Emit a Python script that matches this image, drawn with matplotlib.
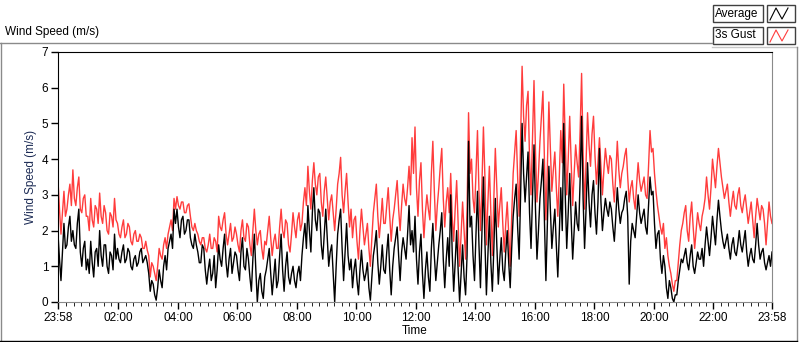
import numpy as np
import matplotlib.pyplot as plt
from matplotlib.lines import Line2D
from matplotlib.patches import Rectangle

plt.rcParams['font.family'] = ['Liberation Sans', 'DejaVu Sans']
plt.rcParams['font.size'] = 8.5

# readings every 3 minutes from 23:58, one row per hour
gust = [
    3.4, 2.6, 1.9, 2.5, 3.1, 2.4, 2.6, 3.0, 3.3, 2.7, 3.7, 2.9, 2.7, 3.2, 3.5, 2.6, 2.5, 2.9, 3.0, 2.4,
    2.4, 2.0, 2.9, 2.3, 2.1, 2.7, 2.6, 2.2, 3.05, 2.4, 2.2, 2.7, 2.5, 2.0, 1.9, 2.5, 2.4, 2.1, 2.9, 2.3,
    2.2, 1.9, 1.8, 2.1, 2.3, 1.8, 1.9, 2.2, 2.1, 1.7, 1.6, 1.9, 2.0, 1.7, 1.7, 1.9, 1.8, 1.5, 1.5, 1.7,
    1.45, 1.3, 0.7, 1.1, 1.0, 0.8, 0.6, 1.0, 1.5, 1.3, 1.2, 1.6, 1.8, 1.5, 1.9, 2.1, 2.3, 2.0, 2.9, 2.6,
    2.95, 2.7, 2.6, 2.8, 2.8, 2.5, 2.5, 2.7, 2.75, 2.4, 2.1, 2.0, 2.2, 2.0, 1.9, 1.7, 1.6, 1.8, 1.8, 1.5,
    1.4, 1.6, 1.9, 1.5, 1.5, 1.8, 1.7, 1.4, 2.4, 2.1, 2.0, 2.3, 2.5, 1.9, 1.6, 1.9, 2.2, 1.7, 1.8, 2.1,
    1.9, 1.6, 1.4, 2.0, 2.3, 1.8, 1.7, 2.2, 2.1, 1.6, 1.3, 2.0, 2.6, 2.0, 1.6, 1.9, 2.0, 1.5, 1.2, 1.7,
    1.6, 2.0, 2.4, 1.8, 1.3, 1.7, 1.9, 1.5, 1.5, 2.1, 2.6, 2.0, 1.8, 2.3, 2.2, 1.6, 1.4, 1.9, 2.5, 2.1,
    1.8, 2.3, 2.5, 2.0, 2.2, 2.8, 3.2, 2.7, 3.8, 3.1, 2.6, 3.4, 3.9, 3.3, 3.0, 3.5, 3.6, 2.8, 2.4, 3.1,
    3.5, 2.9, 2.3, 2.8, 3.0, 2.5, 2.0, 2.6, 3.3, 3.6, 4.05, 3.0, 2.5, 3.1, 3.6, 2.8, 2.1, 2.6, 1.8, 2.3,
    2.4, 1.7, 1.2, 2.0, 2.6, 2.1, 1.6, 1.9, 2.2, 1.5, 1.0, 1.8, 2.5, 2.9, 3.3, 2.4, 1.8, 2.3, 2.9, 2.2,
    2.2, 2.7, 3.2, 2.4, 1.7, 2.3, 2.6, 3.0, 3.4, 2.6, 2.0, 2.7, 3.3, 2.9, 2.7, 3.2, 3.8, 3.0, 4.6, 3.6,
    4.9, 3.2, 2.4, 3.4, 3.9, 2.6, 1.8, 2.5, 3.0, 2.6, 2.3, 3.6, 4.5, 3.1, 2.0, 2.7, 3.2, 3.8, 4.3, 2.9,
    2.1, 2.8, 3.2, 2.5, 3.6, 2.4, 1.7, 2.6, 3.4, 2.2, 1.0, 1.9, 2.8, 2.0, 1.2, 2.6, 5.3, 3.6, 4.0, 2.9,
    2.5, 3.6, 4.8, 3.1, 2.0, 3.3, 4.9, 3.5, 1.6, 2.8, 3.8, 2.5, 1.3, 2.9, 4.3, 3.2, 2.1, 2.7, 3.2, 2.2,
    1.4, 2.2, 2.8, 1.9, 1.0, 2.4, 3.6, 4.2, 4.8, 3.5, 2.4, 4.6, 6.6, 5.2, 4.5, 5.5, 5.9, 4.0, 3.0, 4.6,
    6.2, 4.2, 2.8, 3.6, 4.5, 5.2, 5.9, 4.0, 2.3, 3.8, 5.6, 4.3, 3.1, 3.7, 4.2, 3.2, 2.4, 3.5, 4.8, 3.9,
    6.1, 4.5, 3.0, 4.0, 5.2, 3.9, 2.7, 3.6, 4.4, 3.9, 3.5, 4.8, 6.4, 4.2, 2.6, 3.9, 5.3, 4.4, 3.8, 4.7,
    5.2, 4.1, 3.3, 3.9, 4.6, 3.8, 3.0, 3.7, 4.3, 3.9, 3.6, 4.1, 4.0, 3.3, 2.8, 3.6, 4.5, 3.7, 3.2, 3.6,
    3.8, 4.1, 4.3, 3.5, 2.8, 3.2, 3.4, 2.9, 2.6, 3.3, 3.9, 3.4, 3.1, 3.3, 3.5, 3.0, 2.9, 3.8, 4.8, 4.2,
    4.3, 3.6, 3.1, 2.7, 2.4, 2.1, 1.9, 2.2, 1.5, 1.8, 1.3, 1.0, 0.8, 0.5, 0.3, 0.6, 0.6, 1.1, 1.6, 2.0,
    2.2, 2.5, 2.7, 2.0, 1.7, 2.4, 2.8, 2.1, 1.5, 2.0, 2.5, 2.2, 2.0, 2.4, 2.6, 2.9, 3.5, 3.0, 2.6, 3.2,
    4.0, 3.6, 3.2, 3.8, 4.3, 3.9, 3.5, 3.2, 2.9, 3.1, 3.3, 2.8, 2.4, 2.8, 3.1, 2.7, 2.6, 3.0, 3.2, 2.7,
    2.5, 2.8, 3.0, 2.6, 2.2, 2.5, 2.8, 2.3, 1.8, 2.4, 2.9, 2.6, 2.3, 2.7, 2.6, 2.2, 1.6, 2.2, 2.8, 2.4,
    2.2,
]
average = [
    1.9, 1.2, 0.6, 1.4, 2.2, 1.5, 1.6, 2.1, 2.4, 1.7, 2.0, 1.6, 1.5, 2.2, 2.6, 1.4, 1.0, 1.5, 1.7, 0.9,
    1.2, 0.8, 1.7, 1.1, 0.7, 1.4, 1.5, 1.0, 2.0, 1.3, 1.0, 1.6, 1.6, 1.0, 0.8, 1.4, 1.3, 0.9, 1.9, 1.2,
    1.5, 1.2, 1.1, 1.4, 1.6, 1.1, 1.2, 1.5, 1.4, 1.0, 0.9, 1.2, 1.3, 1.0, 1.1, 1.4, 1.5, 1.1, 1.2, 1.3,
    1.1, 0.8, 0.3, 0.6, 0.5, 0.2, 0.05, 0.4, 0.9, 0.6, 0.4, 1.0, 1.3, 0.9, 1.5, 1.7, 1.9, 1.5, 2.6, 2.2,
    2.6, 2.1, 1.8, 2.3, 2.4, 1.9, 2.0, 2.3, 2.3, 1.8, 1.6, 1.5, 1.9, 1.6, 1.4, 1.1, 1.1, 1.6, 1.5, 0.9,
    0.5, 0.9, 1.2, 0.6, 0.8, 1.3, 0.4, 0.9, 1.6, 1.2, 1.0, 1.5, 1.9, 1.1, 0.7, 1.2, 1.5, 0.8, 1.1, 1.4,
    1.3, 0.9, 0.6, 1.4, 1.8, 1.0, 0.9, 1.5, 1.2, 0.7, 0.3, 1.2, 1.9, 0.9, 0.0, 0.6, 0.8, 0.3, 0.1, 0.7,
    0.9, 1.2, 1.5, 0.8, 0.2, 0.7, 1.2, 0.4, 0.6, 1.3, 1.9, 0.9, 0.3, 1.0, 1.4, 0.7, 0.5, 0.8, 1.0, 0.6,
    0.4, 0.8, 1.0, 0.6, 1.3, 1.8, 2.2, 1.5, 2.7, 2.0, 1.4, 2.5, 3.2, 2.3, 2.0, 2.6, 2.5, 1.6, 1.2, 1.9,
    2.6, 1.8, 1.0, 1.4, 1.6, 0.8, 0.0, 1.0, 1.9, 2.3, 2.6, 1.5, 0.6, 1.4, 2.2, 1.3, 0.9, 1.2, 0.4, 0.9,
    1.2, 0.6, 0.2, 0.9, 1.45, 0.9, 0.6, 0.8, 1.1, 0.4, 0.05, 0.7, 1.3, 1.6, 2.0, 1.1, 0.5, 1.0, 1.6, 0.9,
    0.8, 1.4, 1.9, 0.9, 0.2, 1.0, 1.5, 1.8, 2.1, 1.3, 0.6, 1.4, 1.8, 1.5, 1.2, 1.9, 2.7, 1.6, 2.0, 1.4,
    2.4, 1.2, 0.5, 1.4, 1.9, 0.8, 0.1, 0.9, 1.4, 0.7, 0.3, 1.5, 2.2, 1.3, 0.6, 1.1, 1.6, 2.0, 2.5, 1.2,
    0.4, 1.2, 1.8, 1.0, 3.0, 1.4, 0.3, 1.1, 2.0, 0.9, 0.0, 0.8, 1.6, 0.7, 0.2, 1.3, 4.5, 2.1, 2.4, 1.3,
    0.6, 1.9, 3.1, 1.6, 0.4, 1.9, 3.5, 1.7, 0.2, 1.3, 2.4, 1.1, 0.3, 1.5, 2.9, 1.6, 0.5, 1.2, 1.8, 0.9,
    0.6, 1.4, 2.0, 1.1, 0.4, 1.5, 2.4, 2.9, 3.3, 2.1, 1.2, 3.0, 5.0, 3.6, 2.8, 3.5, 4.2, 2.5, 1.5, 2.9,
    4.4, 2.6, 1.2, 2.0, 2.9, 3.4, 4.0, 2.3, 0.6, 2.2, 3.8, 2.6, 1.5, 2.1, 2.6, 1.6, 0.7, 1.9, 3.2, 2.0,
    5.0, 3.0, 1.5, 2.5, 3.6, 2.3, 1.2, 2.0, 2.8, 2.2, 2.0, 3.4, 5.2, 2.9, 1.5, 2.6, 3.9, 2.8, 2.1, 3.0,
    3.4, 2.5, 1.9, 2.8, 4.3, 2.8, 2.0, 2.5, 2.9, 2.6, 2.4, 2.8, 2.6, 2.1, 1.7, 2.4, 3.2, 2.6, 2.2, 2.5,
    2.6, 2.9, 3.1, 2.4, 0.5, 1.7, 2.2, 2.0, 1.8, 2.4, 3.0, 2.5, 2.2, 2.4, 2.6, 2.1, 1.9, 2.7, 3.5, 3.0,
    3.1, 2.2, 1.5, 1.9, 2.0, 1.2, 0.8, 1.3, 1.0, 0.4, 0.1, 0.6, 0.4, 0.1, 0.0, 0.2, 0.2, 0.6, 0.9, 1.2,
    1.1, 1.3, 1.5, 1.1, 0.9, 1.3, 1.6, 1.0, 0.8, 1.1, 1.4, 1.2, 1.2, 1.5, 1.0, 1.6, 2.1, 1.7, 1.3, 1.8,
    2.4, 2.0, 1.6, 2.3, 2.85, 2.4, 2.0, 1.7, 1.5, 1.7, 1.9, 1.5, 1.2, 1.6, 1.8, 1.4, 1.3, 1.6, 2.0, 1.6,
    1.4, 1.7, 2.0, 1.4, 1.0, 1.3, 1.5, 1.2, 1.1, 1.6, 2.2, 1.6, 1.2, 1.4, 1.5, 1.1, 0.9, 1.1, 1.3, 1.0,
    1.4,
]
tick_labels = ["23:58", "02:00", "04:00", "06:00", "08:00", "10:00", "12:00",
               "14:00", "16:00", "18:00", "20:00", "22:00", "23:58"]

# hours since 23:58
t = np.linspace(0, 24, len(gust))
off = 2 / 60.0
major = [0] + [off + 2 * k for k in range(1, 12)] + [24]
minor = [off + 0.25 * k for k in range(96) if k % 8 != 0]

fig = plt.figure(figsize=(8, 3.42), dpi=100)
ax = fig.add_axes([58 / 800, 40 / 342, 714 / 800, 250 / 342])

ax.plot(t, gust, color='#ff3c3c', lw=1)
ax.plot(t, average, color='black', lw=1)

ax.set_xlim(0, 24)
ax.set_ylim(0, 7)
ax.set_xticks(major)
ax.set_xticklabels(tick_labels)
ax.set_xticks(minor, minor=True)
ax.set_yticks(range(8))
ax.tick_params(axis='both', direction='out', length=5, width=1, pad=2)
ax.tick_params(axis='x', which='minor', length=3)
ax.set_ylabel("Wind Speed (m/s)", color='#1c2b55', labelpad=3)
ax.set_xlabel("Time", labelpad=1)
for s in ['top', 'left']:
    ax.spines[s].set_color('black')
for s in ['right', 'bottom']:
    ax.spines[s].set_color('#8a8a8a')

# outer frame
fig.add_artist(Line2D([0, 712 / 800], [1 - 43 / 342] * 2, color='#8a8a8a', lw=1))
fig.add_artist(Line2D([712 / 800, 797 / 800], [1 - 47 / 342] * 2, color='#c8c8c8', lw=1))
fig.add_artist(Line2D([797 / 800] * 2, [1 - 47 / 342, 1 / 342], color='#8a8a8a', lw=1))
fig.add_artist(Line2D([1 / 800] * 2, [1 - 43 / 342, 1 / 342], color='#8a8a8a', lw=1))
fig.add_artist(Line2D([0, 797 / 800], [1 / 342] * 2, color='black', lw=1))

fig.text(5 / 800, 1 - 32 / 342, "Wind Speed (m/s)", ha='left', va='center')

# legend
for i, (name, col) in enumerate([("Average", 'black'), ("3s Gust", '#ff3c3c')]):
    y0 = 5 + 22 * i
    fig.add_artist(Rectangle((713 / 800, 1 - (y0 + 17) / 342), 50 / 800, 17 / 342,
                             fill=False, edgecolor='#404040', lw=1))
    fig.text(715 / 800, 1 - (y0 + 8.5) / 342, name, ha='left', va='center')
    fig.add_artist(Rectangle((767 / 800, 1 - (y0 + 17) / 342), 28 / 800, 17 / 342,
                             facecolor='white', edgecolor='#404040', lw=1))
    xs = np.array([770, 776, 782, 788]) / 800
    ys = 1 - np.array([y0 + 15, y0 + 3, y0 + 14, y0 + 3]) / 342
    fig.add_artist(Line2D(xs, ys, color=col, lw=0.8))

fig.savefig("out.png", dpi=100)
